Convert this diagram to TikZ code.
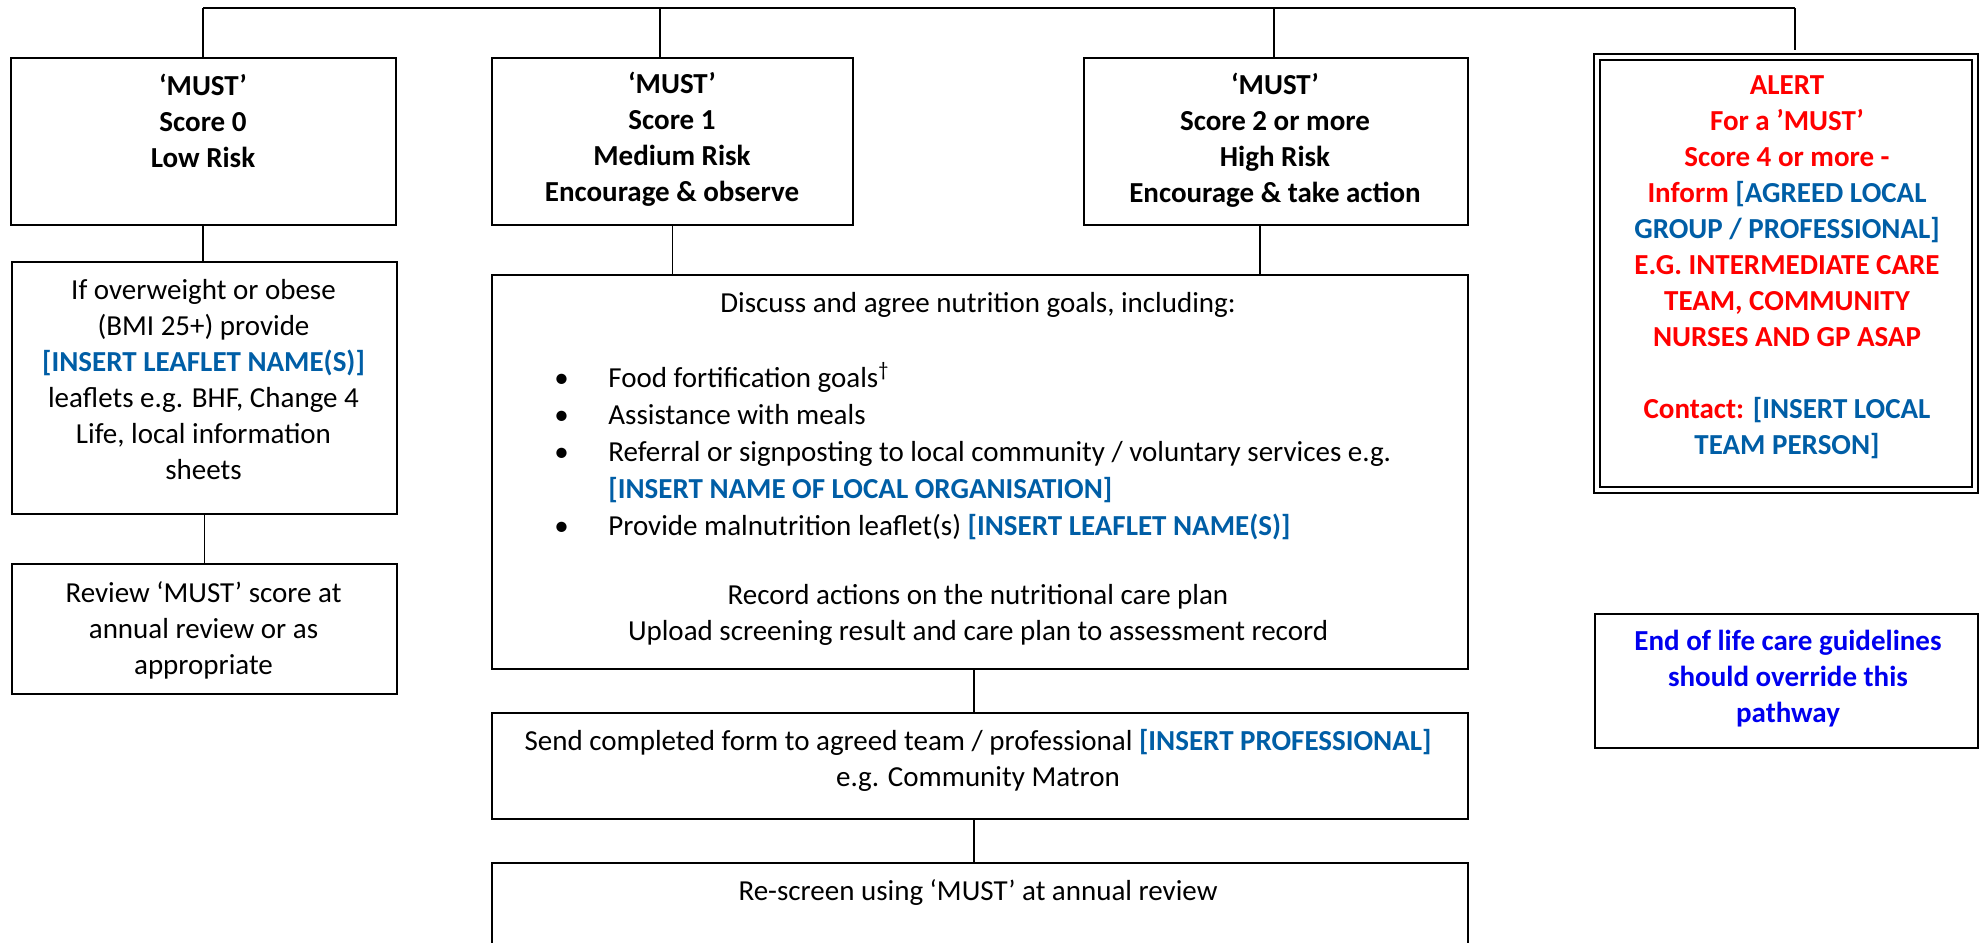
\documentclass[tikz,border=0pt]{standalone}
\usepackage{fontspec}
\setmainfont{Carlito}
\usetikzlibrary{positioning}
\definecolor{insblue}{RGB}{0,94,166}
\definecolor{alertred}{RGB}{255,0,0}
\definecolor{eolblue}{RGB}{0,0,238}
\newcommand\insb[1]{\textcolor{insblue}{\bfseries #1}}
\begin{document}
\begin{tikzpicture}[x=0.5pt,y=-0.5pt,
  box/.style={draw, line width=1pt, inner sep=0pt, anchor=north west},
  conn/.style={draw, line width=0.8pt},
  txt/.style={align=center, inner sep=0pt, font=\fontsize{14.5}{18}\selectfont},
  btxt/.style={txt, font=\fontsize{14.5}{18}\selectfont\bfseries}]
\useasboundingbox (0,0) rectangle (1979,942);
\clip (0,0) rectangle (1979,942);
% boxes
\node[box, minimum width=192.5pt, minimum height=83.5pt] (b1) at (10,57) {};
\node[box, minimum width=180.5pt, minimum height=83.5pt] (b2) at (491,57) {};
\node[box, minimum width=192pt, minimum height=83.5pt] (b3) at (1083,57) {};
\node[box, double, double distance=1.8pt, line width=0.9pt, minimum width=189pt, minimum height=216.5pt] (al) at (1596,56) {};
\node[box, minimum width=192.5pt, minimum height=126pt] (lf) at (11,261) {};
\node[box, minimum width=192.5pt, minimum height=65pt] (rv) at (11,563) {};
\node[box, minimum width=488pt, minimum height=197pt] (bg) at (491,274) {};
\node[box, minimum width=488pt, minimum height=53pt] (sd) at (491,712) {};
\node[box, minimum width=488pt, minimum height=60pt] (rs) at (491,862) {};
\node[box, minimum width=191.5pt, minimum height=67pt] (eol) at (1594,613) {};
% texts
\node[btxt] (b1t) at (203,121) {‘MUST’\\Score 0\\Low Risk};
\node[btxt] (b2t) at (672,139) {‘MUST’\\Score 1\\Medium Risk\\Encourage \& observe};
\node[btxt] (b3t) at (1275,140) {‘MUST’\\Score 2 or more\\High Risk\\Encourage \& take action};
\node[btxt, text=alertred] (alt) at (1787,267.5) {ALERT\\For a ’MUST’\\Score 4 or more -\\Inform \insb{[AGREED LOCAL}\\\insb{GROUP / PROFESSIONAL]}\\E.G. INTERMEDIATE CARE\\TEAM, COMMUNITY\\NURSES AND GP ASAP\\[18pt]Contact: \insb{[INSERT LOCAL}\\\insb{TEAM PERSON]}};
\node[txt] (lft) at (203.5,380) {If overweight or obese\\(BMI 25+) provide\\\insb{[INSERT LEAFLET NAME(S)]}\\leaflets e.g. BHF, Change 4\\Life, local information\\sheets};
\node[txt] (rvt) at (203.5,630) {Review ‘MUST’ score at\\annual review or as\\appropriate};
\node[txt] (bgt1) at (978,305) {Discuss and agree nutrition goals, including:};
\node[txt, align=left, anchor=west, font=\fontsize{14.5}{18.5}\selectfont] (bgl) at (554,451) {%
\makebox[27pt][l]{\textbullet}Food fortification goals\textsuperscript{†}\\
\makebox[27pt][l]{\textbullet}Assistance with meals\\
\makebox[27pt][l]{\textbullet}Referral or signposting to local community / voluntary services e.g.\\
\hspace*{27pt}\insb{[INSERT NAME OF LOCAL ORGANISATION]}\\
\makebox[27pt][l]{\textbullet}Provide malnutrition leaflet(s) \insb{[INSERT LEAFLET NAME(S)]}};
\node[txt] (bgt2) at (978,615) {Record actions on the nutritional care plan\\Upload screening result and care plan to assessment record};
\node[txt] (sdt) at (978,760) {Send completed form to agreed team / professional \insb{[INSERT PROFESSIONAL]}\\e.g. Community Matron};
\node[txt] (rst) at (978,893) {Re-screen using ‘MUST’ at annual review};
\node[btxt, text=eolblue] (eolt) at (1788,679) {End of life care guidelines\\should override this\\pathway};
% connectors
\coordinate (t1) at (203,8);
\coordinate (t2) at (660,8);
\coordinate (t3) at (1274,8);
\coordinate (t4) at (1795,8);
\draw[conn] (t1) -- (t4);
\draw[conn] (t1) -- (t1 |- b1.north);
\draw[conn] (t2) -- (t2 |- b2.north);
\draw[conn] (t3) -- (t3 |- b3.north);
\draw[conn, shorten >=3pt] (t4) -- (t4 |- al.north);
\draw[conn] ([xshift=-0.25pt]b1.south) -- ([xshift=-0.25pt]b1.south |- lf.north);
\draw[conn] (lf.south) -- (rv.north);
\draw[conn] (b2.south) -- (b2.south |- bg.north);
\draw[conn] ([xshift=-8pt]b3.south) -- ([xshift=-8pt]b3.south |- bg.north);
\draw[conn] ([xshift=-3pt]bg.south) -- ([xshift=-3pt]sd.north);
\draw[conn] ([xshift=-3pt]sd.south) -- ([xshift=-3pt]rs.north);
\end{tikzpicture}
\end{document}
